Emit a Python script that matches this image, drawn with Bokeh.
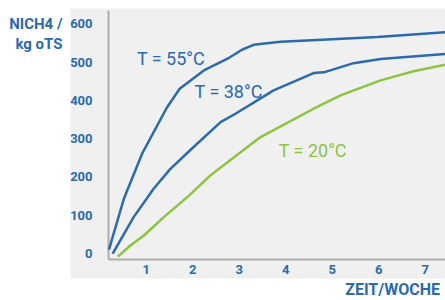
from bokeh.plotting import figure
from bokeh.models import Range1d, LinearAxis, Label, FixedTicker, BoxAnnotation
from bokeh.embed import file_html
from bokeh.resources import INLINE

# Data (weeks, NICH4 / kg oTS)
x55 = [0.20, 0.52, 0.91, 1.44, 1.72, 2.24, 2.74, 3.06, 3.31, 3.89, 4.89, 5.97, 7.44]
y55 = [10, 143, 260, 380, 430, 478, 508, 532, 545, 553, 559, 565, 578]

x38 = [0.28, 0.73, 1.16, 1.52, 2.02, 2.60, 2.92, 3.74, 4.60, 4.82, 5.46, 6.04, 7.44]
y38 = [0, 95, 169, 221, 278, 343, 365, 426, 471, 473, 497, 508, 521]

x20 = [0.39, 0.66, 0.95, 1.38, 1.92, 2.38, 3.46, 4.60, 5.18, 6.04, 6.75, 7.44]
y20 = [-8, 21, 47, 95, 151, 204, 304, 378, 413, 452, 476, 493]

x_ticks = [1, 2, 3, 4, 5, 6, 7]
y_ticks = [0, 100, 200, 300, 400, 500, 600]

series_labels = ["T = 55°C", "T = 38°C", "T = 20°C"]
y_title = ["NICH4 /", "kg oTS"]
x_title = "ZEIT/WOCHE"

BLUE = "#2a6aad"
GREEN = "#8cc43f"
FONT = "Roboto"

X0, X1 = 0.19, 7.44     # axis bounds (weeks)
Y0, Y1 = -15.7, 634     # axis bounds (value)

p = figure(width=445, height=300, output_backend="svg", toolbar_location=None,
           x_range=Range1d(-2.133, 7.437), y_range=Range1d(-122.7, 660.6),
           x_axis_type=None, y_axis_type=None,
           min_border_left=0, min_border_right=0, min_border_top=0, min_border_bottom=0)
p.background_fill_color = "white"
p.border_fill_color = "white"
p.outline_line_color = None
p.grid.visible = False

# grey panel
p.add_layout(BoxAnnotation(left=-0.628, bottom=-65.3, top=639.7,
                           fill_color="#f0f0f0", fill_alpha=1, line_color=None,
                           level="underlay"))

xa = LinearAxis(fixed_location=Y0, bounds=(X0, X1), ticker=FixedTicker(ticks=x_ticks))
ya = LinearAxis(fixed_location=X0, bounds=(Y0, Y1), ticker=FixedTicker(ticks=y_ticks))
for ax in (xa, ya):
    ax.axis_line_color = None
    ax.major_tick_line_color = None
    ax.minor_tick_line_color = None
    ax.major_tick_out = 0
    ax.major_tick_in = 0
    ax.major_label_text_color = BLUE
    ax.major_label_text_font = FONT
    ax.major_label_text_font_size = "13px"
    ax.major_label_text_font_style = "bold"
xa.major_label_standoff = 5
ya.major_label_standoff = 16
ya.major_label_text_align = "center"
p.add_layout(xa, "below")
p.add_layout(ya, "left")

# axis lines
p.segment(x0=[X0, X0], y0=[Y0, Y0], x1=[X0, X1], y1=[Y1, Y0],
          line_color="#adadad", line_width=2)

p.line(x55, y55, line_color=BLUE, line_width=2.5)
p.line(x38, y38, line_color=BLUE, line_width=2.5)
p.line(x20, y20, line_color=GREEN, line_width=2.5)

for (lx, ly, txt, col) in [(0.80, 509, series_labels[0], BLUE),
                           (2.04, 423, series_labels[1], BLUE),
                           (3.85, 269, series_labels[2], GREEN)]:
    p.add_layout(Label(x=lx, y=ly, text=txt, text_color=col, text_font=FONT,
                       text_font_size="18px", text_baseline="middle", text_align="left"))

p.add_layout(Label(x=-0.80, y=600, text=y_title[0],
                   text_color=BLUE, text_font=FONT, text_font_size="15px",
                   text_font_style="bold", text_align="right", text_baseline="middle"))
p.add_layout(Label(x=-0.80, y=548, text=y_title[1],
                   text_color=BLUE, text_font=FONT, text_font_size="15px",
                   text_font_style="bold", text_align="right", text_baseline="middle"))
p.add_layout(Label(x=5.28, y=-94, text=x_title,
                   text_color=BLUE, text_font=FONT, text_font_size="16px",
                   text_font_style="bold", text_align="left", text_baseline="middle"))

open("out.html", "w").write(file_html(p, INLINE))
